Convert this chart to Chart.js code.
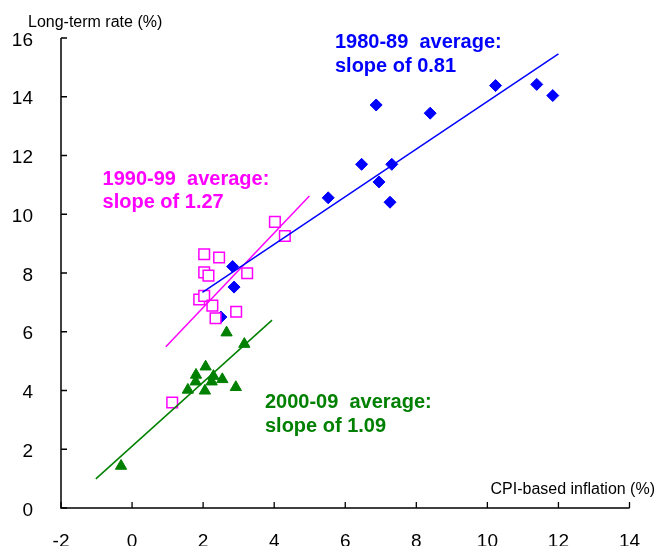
<!DOCTYPE html>
<html>
<head>
<meta charset="utf-8">
<script src="https://cdn.jsdelivr.net/npm/chart.js@4.4.1/dist/chart.umd.min.js"></script>
<style>
  html, body { margin: 0; padding: 0; background: #fff; overflow: hidden; }
  #wrap { width: 659px; height: 570px; }
</style>
</head>
<body>
<div id="wrap"><canvas id="c" width="659" height="570"></canvas></div>
<script>
// Axis ticks
const xTicks = [-2, 0, 2, 4, 6, 8, 10, 12, 14];
const yTicks = [0, 2, 4, 6, 8, 10, 12, 14, 16];

// 1980-89: CPI inflation (%) vs long-term rate (%)
const infl80s = [5.52, 6.46, 6.87, 6.95, 7.31, 7.26, 8.39, 10.23, 11.39, 11.84, 2.83, 2.87, 2.50];
const rate80s = [10.56, 11.70, 13.72, 11.10, 11.70, 10.41, 13.44, 14.38, 14.42, 14.04, 8.22, 7.52, 6.50];

// 1990-99
const infl90s = [4.02, 4.30, 2.03, 2.45, 2.03, 2.15, 3.24, 1.89, 2.03, 2.26, 2.35, 2.93, 1.13];
const rate90s = [9.74, 9.26, 8.64, 8.53, 8.02, 7.91, 7.99, 7.10, 7.22, 6.89, 6.46, 6.68, 3.59];

// 2000-09
const infl00s = [-0.31, 1.57, 1.79, 1.80, 2.07, 2.05, 2.24, 2.29, 2.54, 2.92, 2.66, 3.16];
const rate00s = [1.43, 4.02, 4.30, 4.53, 4.81, 3.99, 4.30, 4.49, 4.38, 4.11, 5.97, 5.58];

// Average slopes and the span of each fitted line
const slopes = [0.81, 1.27, 1.09];
const fitStartX = [1.98, 0.95, -1.02];
const fitStartY = [7.34, 5.49, 0.99];
const fitEndX = [12.0, 4.99, 3.94];

const labels = ['1980-89', '1990-99', '2000-09'];

const BLUE = '#0000FF', MAGENTA = '#FF00FF', GREEN = '#008000';
const colors = [BLUE, MAGENTA, GREEN];
const FONT = "'Liberation Sans', Arial, sans-serif";

const pts = (xs, ys) => xs.map((x, i) => ({ x: x, y: ys[i] }));
const fit = i => [
  { x: fitStartX[i], y: fitStartY[i] },
  { x: fitEndX[i], y: fitStartY[i] + slopes[i] * (fitEndX[i] - fitStartX[i]) }
];

// Annotation placement in data units (left edge, baseline of each line)
const notes = [
  { i: 0, x: 5.71, y1: 15.65, y2: 14.85 },
  { i: 1, x: -0.83, y1: 11.00, y2: 10.20 },
  { i: 2, x: 3.74, y1: 3.39, y2: 2.60 }
];

const axesPlugin = {
  id: 'axesAndText',
  afterDraw(chart) {
    const ctx = chart.ctx;
    const xs = chart.scales.x, ys = chart.scales.y;
    const x0 = xs.getPixelForValue(-2), x1 = xs.getPixelForValue(14);
    const y0 = ys.getPixelForValue(0), y1 = ys.getPixelForValue(16);
    ctx.save();
    ctx.strokeStyle = '#000';
    ctx.lineWidth = 1.5;
    ctx.beginPath();
    ctx.moveTo(x0, y1); ctx.lineTo(x0, y0); ctx.lineTo(x1, y0);
    ctx.stroke();
    ctx.lineWidth = 1.3;
    ctx.beginPath();
    yTicks.forEach(v => { const p = ys.getPixelForValue(v); ctx.moveTo(x0, p); ctx.lineTo(x0 + 6, p); });
    xTicks.forEach(v => { const p = xs.getPixelForValue(v); ctx.moveTo(p, y0); ctx.lineTo(p, y0 - 6); });
    ctx.stroke();

    // axis titles
    ctx.fillStyle = '#000';
    ctx.font = '16px ' + FONT;
    ctx.textBaseline = 'alphabetic';
    ctx.textAlign = 'left';
    ctx.fillText('Long-term rate (%)', 28, 27);
    ctx.textAlign = 'right';
    ctx.fillText('CPI-based inflation (%)', 655, 494);

    // period annotations
    ctx.textAlign = 'left';
    ctx.font = 'bold 20px ' + FONT;
    notes.forEach(n => {
      ctx.fillStyle = colors[n.i];
      const px = xs.getPixelForValue(n.x);
      ctx.fillText(labels[n.i] + '  average:', px, ys.getPixelForValue(n.y1));
      ctx.fillText('slope of ' + slopes[n.i].toFixed(2), px, ys.getPixelForValue(n.y2));
    });
    ctx.restore();
  }
};

const lineDs = i => ({
  data: fit(i), showLine: true, borderColor: colors[i], borderWidth: 1.5,
  pointRadius: 0, pointHoverRadius: 0, fill: false, order: 0
});

new Chart(document.getElementById('c'), {
  type: 'scatter',
  data: {
    datasets: [
      lineDs(0), lineDs(1), lineDs(2),
      { data: pts(infl90s, rate90s), pointStyle: 'rect', pointRadius: 7.5, borderWidth: 1.5,
        borderColor: MAGENTA, backgroundColor: '#fff', order: 1 },
      { data: pts(infl80s, rate80s), pointStyle: 'rectRot', pointRadius: 6, borderWidth: 1,
        borderColor: BLUE, backgroundColor: BLUE, order: 2 },
      { data: pts(infl00s, rate00s), pointStyle: 'triangle', pointRadius: 6.5, borderWidth: 1,
        borderColor: GREEN, backgroundColor: GREEN, order: 3 }
    ]
  },
  options: {
    responsive: false,
    animation: false,
    devicePixelRatio: 1,
    layout: { padding: { top: 38, right: 29.5, left: 0, bottom: 0 } },
    plugins: { legend: { display: false }, tooltip: { enabled: false } },
    scales: {
      x: {
        type: 'linear', min: -2, max: 14,
        afterBuildTicks: s => { s.ticks = xTicks.map(v => ({ value: v })); },
        afterFit: s => { s.height = 62; },
        grid: { display: false, drawTicks: true, tickLength: 22 },
        border: { display: false },
        ticks: { padding: 0, color: '#000', font: { family: FONT, size: 19 }, maxRotation: 0, autoSkip: false }
      },
      y: {
        type: 'linear', min: 0, max: 16,
        afterBuildTicks: s => { s.ticks = yTicks.map(v => ({ value: v })); },
        afterFit: s => { s.width = 61; },
        grid: { display: false, drawTicks: true, tickLength: 28 },
        border: { display: false },
        ticks: { padding: 0, labelOffset: 2.5, color: '#000', font: { family: FONT, size: 19 }, autoSkip: false }
      }
    }
  },
  plugins: [axesPlugin]
});
</script>
</body>
</html>
